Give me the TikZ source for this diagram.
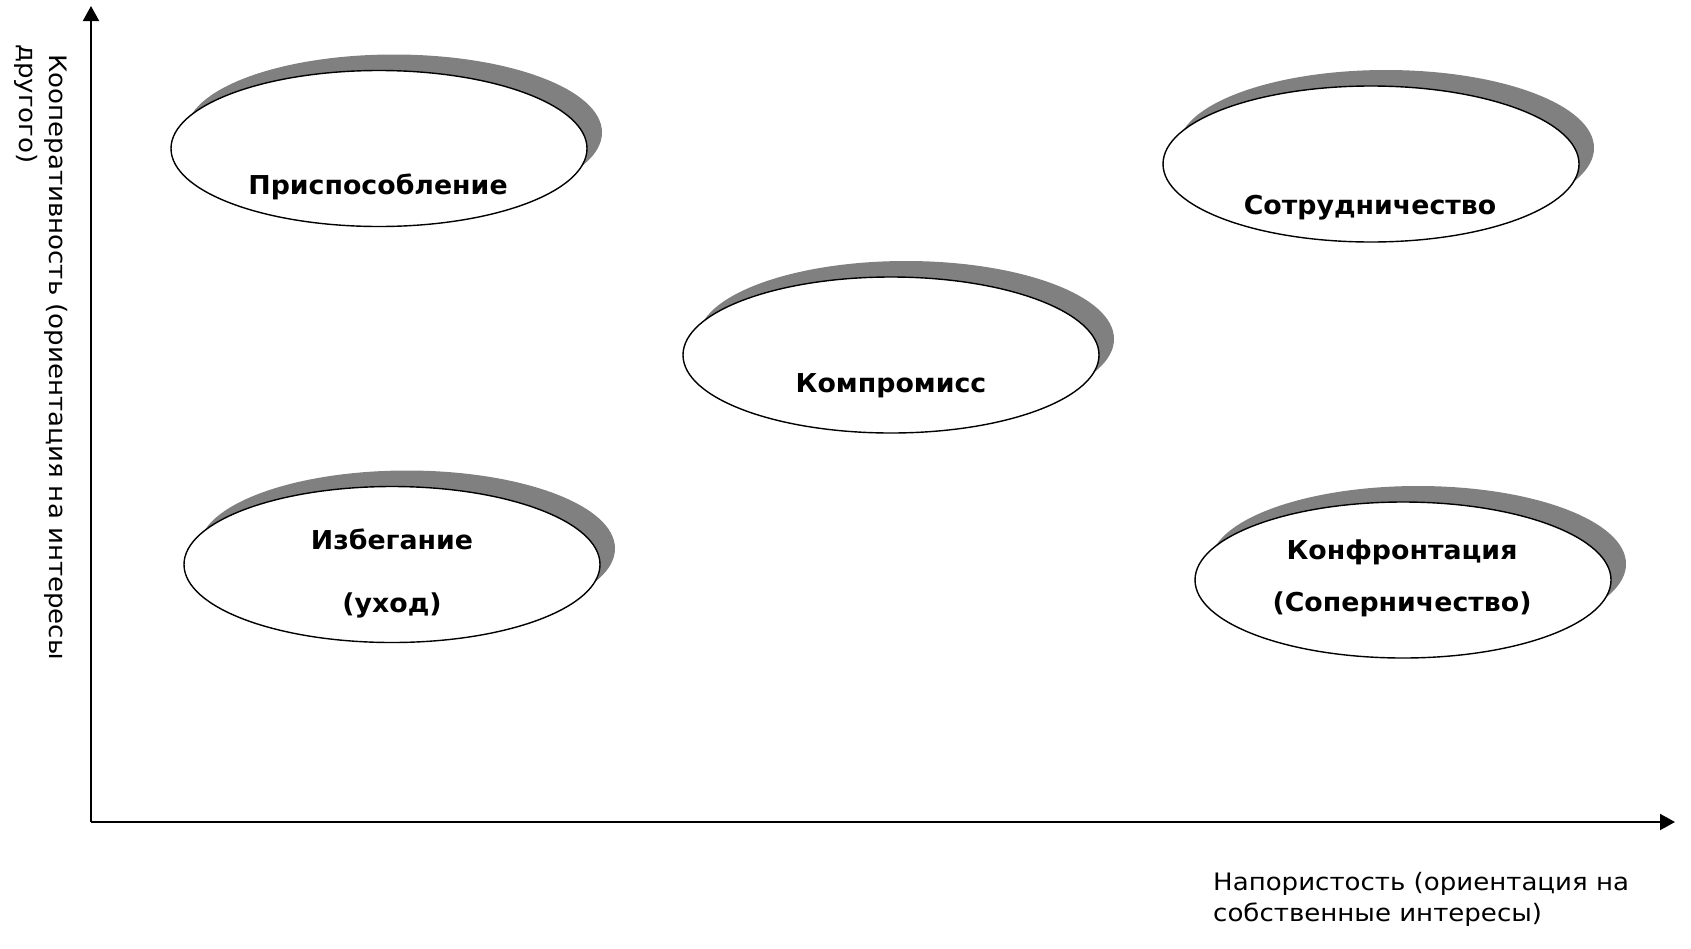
\documentclass[tikz,border=0pt]{standalone}
\usepackage{fontspec}
\setmainfont{DejaVu Sans}
\newfontfamily\labelfont[FakeStretch=1.085]{DejaVu Sans}
\newfontfamily\titlefont[FakeStretch=1.03]{DejaVu Sans Bold}
\usetikzlibrary{arrows.meta,shapes.geometric}
\definecolor{shadowgray}{HTML}{808080}
\begin{document}
\begin{tikzpicture}[x=1pt,y=-1pt,
  oval/.style={ellipse, draw=black, line width=1.4pt, fill=white,
    minimum width=416pt, minimum height=156pt, inner sep=0pt},
  shadowoval/.style={ellipse, fill=shadowgray,
    minimum width=416pt, minimum height=156pt, inner sep=0pt},
  title/.style={font=\titlefont\fontsize{26}{30}\selectfont, anchor=base, inner sep=0pt},
  axislabel/.style={font=\labelfont\fontsize{24}{28}\selectfont, anchor=base west, inner sep=0pt},
  axisline/.style={line width=2pt, -{Triangle[length=15pt,width=16pt]}}]
\useasboundingbox (0,0) rectangle (1691,948);

% axes
\coordinate (O) at (91,822);
\coordinate (Ytip) at (91,6);
\coordinate (Xtip) at (1675,822);
\draw[axisline] (O) -- (Ytip);
\draw[axisline] (O) -- (Xtip);

% axis labels
\node[axislabel, rotate=-90] (ylab1) at (49,54) {Кооперативность (ориентация на интересы};
\node[axislabel, rotate=-90] (ylab2) at (19,44) {другого)};
\node[axislabel] (xlab1) at (1213,890) {Напористость (ориентация на};
\node[axislabel] (xlab2) at (1213,921) {собственные интересы)};

% ellipses with shadows
\node[shadowoval] (s1) at (394,132.5) {};
\node[oval] (e1) at (379,148.5) {};
\node[title] (t1) at (378,194) {Приспособление};

\node[shadowoval] (s2) at (1386,148) {};
\node[oval] (e2) at (1371,164) {};
\node[title] (t2) at (1370,214) {Сотрудничество};

\node[shadowoval] (s3) at (906,339) {};
\node[oval] (e3) at (891,355) {};
\node[title] (t3) at (891,392) {Компромисс};

\node[shadowoval] (s4) at (407,548.5) {};
\node[oval] (e4) at (392,564.5) {};
\node[title] (t4a) at (392,549) {Избегание};
\node[title] (t4b) at (392,612) {(уход)};

\node[shadowoval] (s5) at (1418,564) {};
\node[oval] (e5) at (1403,580) {};
\node[title] (t5a) at (1402,559) {Конфронтация};
\node[title] (t5b) at (1402,611) {(Соперничество)};
\end{tikzpicture}
\end{document}
